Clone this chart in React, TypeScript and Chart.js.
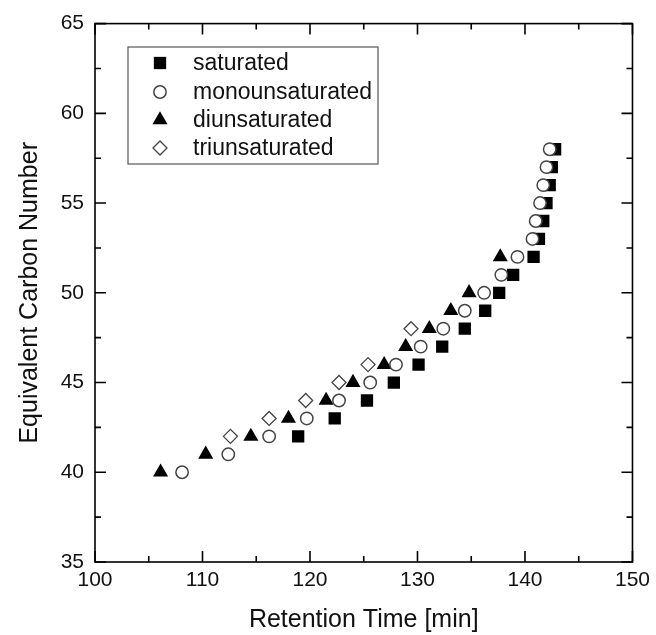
import React, { useEffect, useRef } from "react";
import { Chart, registerables } from "chart.js";

Chart.register(...registerables);

const seriesNames = ["saturated", "monounsaturated", "diunsaturated", "triunsaturated"];

const saturatedTime = [118.9, 122.3, 125.3, 127.8, 130.1, 132.3, 134.4, 136.3, 137.6, 138.9, 140.8, 141.3, 141.7, 142.0, 142.3, 142.5, 142.8];
const saturatedECN = [42, 43, 44, 45, 46, 47, 48, 49, 50, 51, 52, 53, 54, 55, 56, 57, 58];

const monoTime = [108.1, 112.4, 116.2, 119.7, 122.7, 125.6, 128.0, 130.3, 132.4, 134.4, 136.2, 137.8, 139.3, 140.7, 141.0, 141.4, 141.7, 142.0, 142.3];
const monoECN = [40, 41, 42, 43, 44, 45, 46, 47, 48, 49, 50, 51, 52, 53, 54, 55, 56, 57, 58];

const diTime = [106.1, 110.3, 114.5, 118.0, 121.5, 124.0, 126.9, 128.9, 131.1, 133.1, 134.8, 137.7];
const diECN = [40, 41, 42, 43, 44, 45, 46, 47, 48, 49, 50, 52];

const triTime = [112.6, 116.2, 119.6, 122.7, 125.4, 129.4];
const triECN = [42, 43, 44, 45, 46, 48];

const xMajorTicks = [100, 110, 120, 130, 140, 150];
const xMinorTicks = [105, 115, 125, 135, 145];
const yMajorTicks = [35, 40, 45, 50, 55, 60, 65];
const yMinorTicks = [37.5, 42.5, 47.5, 52.5, 57.5, 62.5];

const FONT = "'Liberation Sans', Arial, Helvetica, sans-serif";
const INK = "#111";

const toPoints = (xs: number[], ys: number[]) => xs.map((x, i) => ({ x, y: ys[i] }));

function drawShape(ctx: CanvasRenderingContext2D, style: string, x: number, y: number, r: number, fill: string, stroke: string, lw: number) {
  ctx.save();
  ctx.beginPath();
  if (style === "rect") {
    const s = Math.SQRT1_2 * r;
    ctx.rect(x - s, y - s, 2 * s, 2 * s);
  } else if (style === "circle") {
    ctx.arc(x, y, r, 0, Math.PI * 2);
  } else if (style === "triangle") {
    let a = 0;
    ctx.moveTo(x + Math.sin(a) * r, y - Math.cos(a) * r);
    a += (2 * Math.PI) / 3;
    ctx.lineTo(x + Math.sin(a) * r, y - Math.cos(a) * r);
    a += (2 * Math.PI) / 3;
    ctx.lineTo(x + Math.sin(a) * r, y - Math.cos(a) * r);
    ctx.closePath();
  } else if (style === "rectRot") {
    ctx.moveTo(x - r, y);
    ctx.lineTo(x, y - r);
    ctx.lineTo(x + r, y);
    ctx.lineTo(x, y + r);
    ctx.closePath();
  }
  ctx.fillStyle = fill;
  ctx.fill();
  if (lw > 0) {
    ctx.strokeStyle = stroke;
    ctx.lineWidth = lw;
    ctx.stroke();
  }
  ctx.restore();
}

const frameTicksPlugin = {
  id: "frameTicks",
  afterDatasetsDraw(chart: any) {
    const { ctx, chartArea, scales } = chart;
    const { left, right, top, bottom } = chartArea;
    ctx.save();
    ctx.strokeStyle = "#000";
    ctx.lineWidth = 1.6;
    ctx.strokeRect(left, top, right - left, bottom - top);
    const major = 11;
    const minor = 6;
    ctx.beginPath();
    const xt = (v: number, len: number) => {
      const px = scales.x.getPixelForValue(v);
      ctx.moveTo(px, bottom);
      ctx.lineTo(px, bottom - len);
      ctx.moveTo(px, top);
      ctx.lineTo(px, top + len);
    };
    const yt = (v: number, len: number) => {
      const py = scales.y.getPixelForValue(v);
      ctx.moveTo(left, py);
      ctx.lineTo(left + len, py);
      ctx.moveTo(right, py);
      ctx.lineTo(right - len, py);
    };
    xMajorTicks.forEach((v) => xt(v, major));
    xMinorTicks.forEach((v) => xt(v, minor));
    yMajorTicks.forEach((v) => yt(v, major));
    yMinorTicks.forEach((v) => yt(v, minor));
    ctx.stroke();
    ctx.restore();
  },
};

const legendPlugin = {
  id: "boxLegend",
  afterDraw(chart: any) {
    const { ctx } = chart;
    const boxL = 128, boxT = 47, boxW = 250, boxH = 117;
    ctx.save();
    ctx.strokeStyle = "#555";
    ctx.lineWidth = 1.2;
    ctx.strokeRect(boxL, boxT, boxW, boxH);
    const rows = [63, 92, 120, 148];
    ctx.font = `23px ${FONT}`;
    ctx.fillStyle = INK;
    ctx.textBaseline = "middle";
    ctx.textAlign = "left";
    chart.data.datasets.forEach((ds: any, i: number) => {
      const y = rows[i];
      drawShape(ctx, ds.pointStyle, 160, y, ds.pointRadius, ds.backgroundColor, ds.borderColor, ds.borderWidth);
      ctx.fillStyle = INK;
      ctx.fillText(ds.label, 193, y + 1);
    });
    ctx.restore();
  },
};

export default function App() {
  const canvasRef = useRef<HTMLCanvasElement | null>(null);

  useEffect(() => {
    const canvas = canvasRef.current;
    if (!canvas) return;
    const chart = new Chart(canvas, {
      type: "scatter",
      data: {
        datasets: [
          {
            label: seriesNames[0],
            data: toPoints(saturatedTime, saturatedECN),
            pointStyle: "rect",
            pointRadius: 8.7,
            backgroundColor: "#000",
            borderColor: "#000",
            borderWidth: 0,
            order: 3,
          },
          {
            label: seriesNames[1],
            data: toPoints(monoTime, monoECN),
            pointStyle: "circle",
            pointRadius: 6.2,
            backgroundColor: "#fff",
            borderColor: "#444",
            borderWidth: 1.5,
            order: 0,
          },
          {
            label: seriesNames[2],
            data: toPoints(diTime, diECN),
            pointStyle: "triangle",
            pointRadius: 8.7,
            backgroundColor: "#000",
            borderColor: "#000",
            borderWidth: 0,
            order: 1,
          },
          {
            label: seriesNames[3],
            data: toPoints(triTime, triECN),
            pointStyle: "rectRot",
            pointRadius: 7,
            backgroundColor: "#fff",
            borderColor: "#444",
            borderWidth: 1.3,
            order: 2,
          },
        ] as any,
      },
      options: {
        responsive: false,
        animation: false,
        layout: { padding: { left: 0, right: 20, top: 23, bottom: 0 } },
        plugins: {
          legend: { display: false },
          tooltip: { enabled: false },
        },
        scales: {
          x: {
            type: "linear",
            min: 100,
            max: 150,
            afterFit: (s: any) => {
              s.height = 73;
            },
            afterBuildTicks: (s: any) => {
              s.ticks = xMajorTicks.map((v) => ({ value: v }));
            },
            grid: { display: false, drawTicks: false },
            border: { display: false },
            ticks: {
              color: INK,
              font: { size: 21, family: FONT },
              padding: 6,
              maxRotation: 0,
              autoSkip: false,
            },
            title: {
              display: true,
              text: "Retention Time [min]",
              color: INK,
              font: { size: 25, family: FONT },
              padding: { top: 0, bottom: 0 },
            },
          },
          y: {
            type: "linear",
            min: 35,
            max: 65,
            afterFit: (s: any) => {
              s.width = 95;
            },
            afterBuildTicks: (s: any) => {
              s.ticks = yMajorTicks.map((v) => ({ value: v }));
            },
            grid: { display: false, drawTicks: false },
            border: { display: false },
            ticks: {
              color: INK,
              font: { size: 21, family: FONT },
              padding: 11,
              autoSkip: false,
            },
            title: {
              display: true,
              text: "Equivalent Carbon Number",
              color: INK,
              font: { size: 25, family: FONT },
              padding: { top: 15, bottom: 0 },
            },
          },
        },
      } as any,
      plugins: [frameTicksPlugin, legendPlugin],
    });
    return () => chart.destroy();
  }, []);

  return (
    <div style={{ position: "absolute", left: 0, top: 0, width: 656, height: 635, background: "#fff" }}>
      <canvas ref={canvasRef} width={656} height={635} style={{ display: "block" }} />
    </div>
  );
}
